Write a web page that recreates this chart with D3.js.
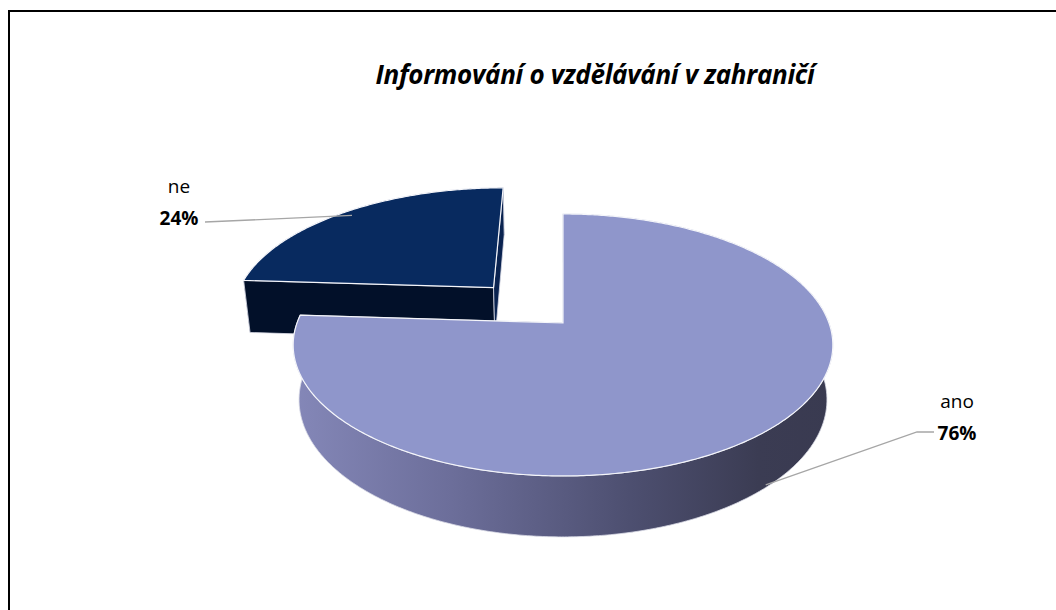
<!DOCTYPE html>
<html>
<head>
<meta charset="utf-8">
<script src="https://cdn.jsdelivr.net/npm/d3@7"></script>
<style>
  body { margin: 0; background: #fff; }
  svg { display: block; }
  text { font-family: "Open Sans", "Noto Sans", sans-serif; }
</style>
</head>
<body>
<svg id="chart" width="1056" height="610"></svg>
<script>
const title = "Informování o vzdělávání v zahraničí";
const categories = ["ano", "ne"];
const values = [76, 24];
const explode = [0, 0.4];

const svg = d3.select("#chart");

// chart frame (runs off the right and bottom edge)
svg.append("rect")
  .attr("x", 9).attr("y", 11)
  .attr("width", 1200).attr("height", 700)
  .attr("fill", "#fff").attr("stroke", "#000").attr("stroke-width", 2);

svg.append("text")
  .attr("x", 595).attr("y", 84)
  .attr("text-anchor", "middle")
  .attr("font-size", 26).attr("font-weight", "bold").attr("font-style", "italic")
  .attr("letter-spacing", -0.3)
  .text(title);

// 3D projection: unit circle, tilted, with a bit of perspective
const cx = 563, cy = 323, A = 266, p = 0.191;
const tilt = Math.asin(0.4786), s = Math.sin(tilt), c = Math.cos(tilt);
const depth = 0.237;

function proj(X, Y, Z) {
  const yp = Y * c + Z * s, zp = -Y * s + Z * c;
  const w = 1 + p * zp;
  return [cx + A * X / w, cy - A * yp / w];
}

const pie = d3.pie().sort(null).value(d => d.value);
const arcs = pie(categories.map((k, i) => ({ key: k, value: values[i], explode: explode[i] })));

const line = d3.line();
const fmt = d3.format(".0%");
const total = d3.sum(values);

function offset(d) {
  const mid = (d.startAngle + d.endAngle) / 2;
  return [Math.sin(mid) * d.data.explode, Math.cos(mid) * d.data.explode];
}
function rim(d, Y) {
  const [ox, oz] = offset(d);
  const n = Math.max(2, Math.ceil((d.endAngle - d.startAngle) / 0.01));
  return d3.range(n + 1).map(i => {
    const a = d.startAngle + (d.endAngle - d.startAngle) * i / n;
    return proj(ox + Math.sin(a), Y, oz + Math.cos(a));
  });
}
function radial(d, a) {
  const [ox, oz] = offset(d);
  return [
    proj(ox, 0, oz),
    proj(ox + Math.sin(a), 0, oz + Math.cos(a)),
    proj(ox + Math.sin(a), -depth, oz + Math.cos(a)),
    proj(ox, -depth, oz)
  ];
}

const defs = svg.append("defs");
const left = proj(-1.02, 0, -0.17)[0], right = proj(1.02, 0, -0.17)[0];
const grad = defs.append("linearGradient")
  .attr("id", "anoSide").attr("gradientUnits", "userSpaceOnUse")
  .attr("x1", left).attr("x2", right).attr("y1", 0).attr("y2", 0);
[[0, "#8689ba"], [0.3, "#6c6e9a"], [0.62, "#4d4f70"], [0.85, "#3b3c53"], [1, "#393a50"]]
  .forEach(([o, col]) => grad.append("stop").attr("offset", o).attr("stop-color", col));

const style = {
  ano: { top: "#8f96cb", side: "url(#anoSide)", cut: "#3b3c53" },
  ne: { top: "#082a5f", side: "#021029", cut: "#0a2350" }
};

// back slice (ne) first, then the front slice (ano)
const order = arcs.slice().sort((a, b) => b.data.explode - a.data.explode);
order.forEach(d => {
  const st = style[d.data.key];
  const g = svg.append("g");
  const wall = rim(d, 0).concat(rim(d, -depth).reverse());
  g.append("path").attr("d", line(wall) + "Z")
    .attr("fill", st.side).attr("stroke", "#d9dbe6").attr("stroke-width", 0.8);
  g.append("path").attr("d", line(radial(d, d.startAngle)) + "Z")
    .attr("fill", d.data.key === "ne" ? st.side : st.cut)
    .attr("stroke", "#d9dbe6").attr("stroke-width", 0.8);
  g.append("path").attr("d", line(radial(d, d.endAngle)) + "Z")
    .attr("fill", st.cut).attr("stroke", "#d9dbe6").attr("stroke-width", 0.8);
  const [ox, oz] = offset(d);
  const top = [proj(ox, 0, oz)].concat(rim(d, 0));
  g.append("path").attr("d", line(top) + "Z")
    .attr("fill", st.top).attr("stroke", "#f4f5fa").attr("stroke-width", 1.2);
});

// labels with leader lines
const labelPos = {
  ne: { x: 179, y: 193, line: [[205, 222]] },
  ano: { x: 957, y: 408, line: [[934, 432], [917, 432]] }
};
arcs.forEach(d => {
  const lp = labelPos[d.data.key];
  const mid = (d.startAngle + d.endAngle) / 2;
  const [ox, oz] = offset(d);
  const Y = d.data.key === "ano" ? -depth * 0.95 : 0;
  const r = d.data.key === "ano" ? 1 : 0.95;
  const end = proj(ox + Math.sin(mid) * r, Y, oz + Math.cos(mid) * r);
  svg.append("path")
    .attr("d", line(lp.line.concat([end])))
    .attr("fill", "none").attr("stroke", "#a6a6a6").attr("stroke-width", 1.3);
  svg.append("text").attr("x", lp.x).attr("y", lp.y)
    .attr("text-anchor", "middle").attr("font-size", 19).attr("fill", "#000")
    .text(d.data.key);
  svg.append("text").attr("x", lp.x).attr("y", lp.y + 32)
    .attr("text-anchor", "middle").attr("font-size", 19).attr("font-weight", "bold").attr("fill", "#000")
    .text(fmt(d.value / total));
});
</script>
</body>
</html>
